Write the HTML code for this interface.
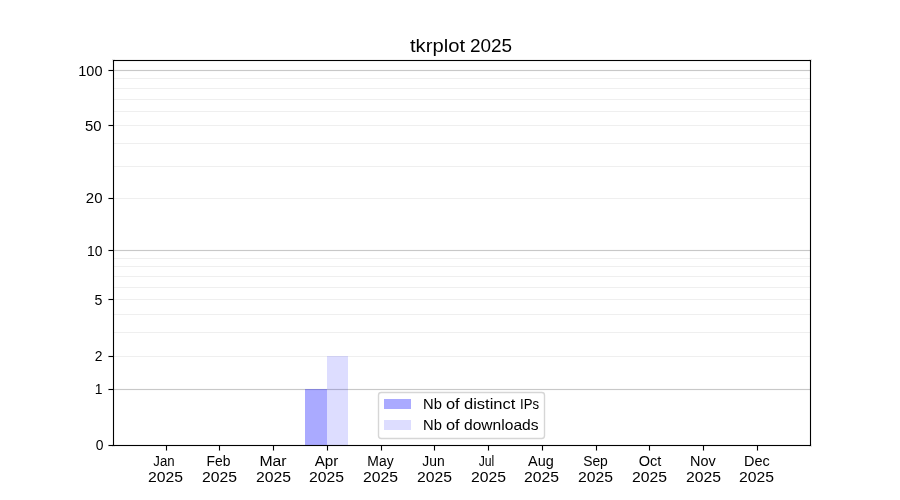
<!DOCTYPE html>
<html><head><meta charset="utf-8"><title>tkrplot 2025</title>
<style>
html,body{margin:0;padding:0;background:#fff;}
body{width:900px;height:500px;overflow:hidden;}
svg{display:block;will-change:transform;}
text{font-family:"Liberation Sans",sans-serif;fill:#000;}
</style></head><body>
<svg width="900" height="500" viewBox="0 0 900 500">
<rect width="900" height="500" fill="#fff"/>
<g shape-rendering="crispEdges">
<rect x="113" y="78" width="697" height="1" fill="#b0b0b0" fill-opacity="0.2"/>
<rect x="113" y="88" width="697" height="1" fill="#b0b0b0" fill-opacity="0.2"/>
<rect x="113" y="99" width="697" height="1" fill="#b0b0b0" fill-opacity="0.2"/>
<rect x="113" y="111" width="697" height="1" fill="#b0b0b0" fill-opacity="0.2"/>
<rect x="113" y="125" width="697" height="1" fill="#b0b0b0" fill-opacity="0.2"/>
<rect x="113" y="143" width="697" height="1" fill="#b0b0b0" fill-opacity="0.2"/>
<rect x="113" y="166" width="697" height="1" fill="#b0b0b0" fill-opacity="0.2"/>
<rect x="113" y="198" width="697" height="1" fill="#b0b0b0" fill-opacity="0.2"/>
<rect x="113" y="258" width="697" height="1" fill="#b0b0b0" fill-opacity="0.2"/>
<rect x="113" y="266" width="697" height="1" fill="#b0b0b0" fill-opacity="0.2"/>
<rect x="113" y="276" width="697" height="1" fill="#b0b0b0" fill-opacity="0.2"/>
<rect x="113" y="287" width="697" height="1" fill="#b0b0b0" fill-opacity="0.2"/>
<rect x="113" y="299" width="697" height="1" fill="#b0b0b0" fill-opacity="0.2"/>
<rect x="113" y="314" width="697" height="1" fill="#b0b0b0" fill-opacity="0.2"/>
<rect x="113" y="332" width="697" height="1" fill="#b0b0b0" fill-opacity="0.2"/>
<rect x="113" y="356" width="697" height="1" fill="#b0b0b0" fill-opacity="0.2"/>
<rect x="113" y="70" width="697" height="1" fill="#b0b0b0" fill-opacity="0.7"/>
<rect x="113" y="69" width="697" height="1" fill="#b0b0b0" fill-opacity="0.05"/>
<rect x="113" y="71" width="697" height="1" fill="#b0b0b0" fill-opacity="0.05"/>
<rect x="113" y="250" width="697" height="1" fill="#b0b0b0" fill-opacity="0.7"/>
<rect x="113" y="249" width="697" height="1" fill="#b0b0b0" fill-opacity="0.05"/>
<rect x="113" y="251" width="697" height="1" fill="#b0b0b0" fill-opacity="0.05"/>
<rect x="113" y="389" width="697" height="1" fill="#b0b0b0" fill-opacity="0.7"/>
<rect x="113" y="388" width="697" height="1" fill="#b0b0b0" fill-opacity="0.05"/>
<rect x="113" y="390" width="697" height="1" fill="#b0b0b0" fill-opacity="0.05"/>
<rect x="305" y="389" width="22" height="56" fill="#00f" fill-opacity="0.333"/>
<rect x="327" y="356" width="21" height="89" fill="#00f" fill-opacity="0.133"/>
<rect x="378.5" y="392.5" width="166" height="46" rx="2.78" ry="2.78" fill="#fff" fill-opacity="0.8" stroke="#ccc" stroke-opacity="0.8" stroke-width="1.39" shape-rendering="geometricPrecision"/>
<rect x="384" y="399" width="27" height="10" fill="rgb(170,170,255)"/>
<rect x="384" y="420" width="27" height="10" fill="rgb(221,221,255)"/>
<rect x="112" y="59" width="700" height="3" fill="#000" fill-opacity="0.055"/>
<rect x="112" y="444" width="700" height="3" fill="#000" fill-opacity="0.055"/>
<rect x="112" y="59" width="3" height="388" fill="#000" fill-opacity="0.055"/>
<rect x="809" y="59" width="3" height="388" fill="#000" fill-opacity="0.055"/>
<rect x="113" y="60" width="698" height="1" fill="#000"/>
<rect x="113" y="445" width="698" height="1" fill="#000"/>
<rect x="113" y="60" width="1" height="386" fill="#000"/>
<rect x="810" y="60" width="1" height="386" fill="#000"/>
<rect x="108" y="69" width="5" height="3" fill="#000" fill-opacity="0.055"/>
<rect x="109" y="70" width="4" height="1" fill="#000"/>
<rect x="108" y="70" width="1" height="1" fill="#000" fill-opacity="0.5"/>
<rect x="108" y="124" width="5" height="3" fill="#000" fill-opacity="0.055"/>
<rect x="109" y="125" width="4" height="1" fill="#000"/>
<rect x="108" y="125" width="1" height="1" fill="#000" fill-opacity="0.5"/>
<rect x="108" y="197" width="5" height="3" fill="#000" fill-opacity="0.055"/>
<rect x="109" y="198" width="4" height="1" fill="#000"/>
<rect x="108" y="198" width="1" height="1" fill="#000" fill-opacity="0.5"/>
<rect x="108" y="249" width="5" height="3" fill="#000" fill-opacity="0.055"/>
<rect x="109" y="250" width="4" height="1" fill="#000"/>
<rect x="108" y="250" width="1" height="1" fill="#000" fill-opacity="0.5"/>
<rect x="108" y="298" width="5" height="3" fill="#000" fill-opacity="0.055"/>
<rect x="109" y="299" width="4" height="1" fill="#000"/>
<rect x="108" y="299" width="1" height="1" fill="#000" fill-opacity="0.5"/>
<rect x="108" y="355" width="5" height="3" fill="#000" fill-opacity="0.055"/>
<rect x="109" y="356" width="4" height="1" fill="#000"/>
<rect x="108" y="356" width="1" height="1" fill="#000" fill-opacity="0.5"/>
<rect x="108" y="388" width="5" height="3" fill="#000" fill-opacity="0.055"/>
<rect x="109" y="389" width="4" height="1" fill="#000"/>
<rect x="108" y="389" width="1" height="1" fill="#000" fill-opacity="0.5"/>
<rect x="108" y="444" width="5" height="3" fill="#000" fill-opacity="0.055"/>
<rect x="109" y="445" width="4" height="1" fill="#000"/>
<rect x="108" y="445" width="1" height="1" fill="#000" fill-opacity="0.5"/>
<rect x="165" y="446" width="3" height="5" fill="#000" fill-opacity="0.055"/>
<rect x="166" y="446" width="1" height="4" fill="#000"/>
<rect x="166" y="450" width="1" height="1" fill="#000" fill-opacity="0.5"/>
<rect x="218" y="446" width="3" height="5" fill="#000" fill-opacity="0.055"/>
<rect x="219" y="446" width="1" height="4" fill="#000"/>
<rect x="219" y="450" width="1" height="1" fill="#000" fill-opacity="0.5"/>
<rect x="272" y="446" width="3" height="5" fill="#000" fill-opacity="0.055"/>
<rect x="273" y="446" width="1" height="4" fill="#000"/>
<rect x="273" y="450" width="1" height="1" fill="#000" fill-opacity="0.5"/>
<rect x="326" y="446" width="3" height="5" fill="#000" fill-opacity="0.055"/>
<rect x="327" y="446" width="1" height="4" fill="#000"/>
<rect x="327" y="450" width="1" height="1" fill="#000" fill-opacity="0.5"/>
<rect x="380" y="446" width="3" height="5" fill="#000" fill-opacity="0.055"/>
<rect x="381" y="446" width="1" height="4" fill="#000"/>
<rect x="381" y="450" width="1" height="1" fill="#000" fill-opacity="0.5"/>
<rect x="433" y="446" width="3" height="5" fill="#000" fill-opacity="0.055"/>
<rect x="434" y="446" width="1" height="4" fill="#000"/>
<rect x="434" y="450" width="1" height="1" fill="#000" fill-opacity="0.5"/>
<rect x="487" y="446" width="3" height="5" fill="#000" fill-opacity="0.055"/>
<rect x="488" y="446" width="1" height="4" fill="#000"/>
<rect x="488" y="450" width="1" height="1" fill="#000" fill-opacity="0.5"/>
<rect x="541" y="446" width="3" height="5" fill="#000" fill-opacity="0.055"/>
<rect x="542" y="446" width="1" height="4" fill="#000"/>
<rect x="542" y="450" width="1" height="1" fill="#000" fill-opacity="0.5"/>
<rect x="595" y="446" width="3" height="5" fill="#000" fill-opacity="0.055"/>
<rect x="596" y="446" width="1" height="4" fill="#000"/>
<rect x="596" y="450" width="1" height="1" fill="#000" fill-opacity="0.5"/>
<rect x="648" y="446" width="3" height="5" fill="#000" fill-opacity="0.055"/>
<rect x="649" y="446" width="1" height="4" fill="#000"/>
<rect x="649" y="450" width="1" height="1" fill="#000" fill-opacity="0.5"/>
<rect x="702" y="446" width="3" height="5" fill="#000" fill-opacity="0.055"/>
<rect x="703" y="446" width="1" height="4" fill="#000"/>
<rect x="703" y="450" width="1" height="1" fill="#000" fill-opacity="0.5"/>
<rect x="756" y="446" width="3" height="5" fill="#000" fill-opacity="0.055"/>
<rect x="757" y="446" width="1" height="4" fill="#000"/>
<rect x="757" y="450" width="1" height="1" fill="#000" fill-opacity="0.5"/>
</g>
<g>
<text x="410.00" y="52.00" font-size="18.00" text-anchor="start" textLength="55.04" lengthAdjust="spacingAndGlyphs">tkrplot</text>
<text x="470.00" y="52.00" font-size="18.00" text-anchor="start" textLength="42.15" lengthAdjust="spacingAndGlyphs">2025</text>
<text x="102.50" y="76.00" font-size="13.89" text-anchor="end" textLength="24.21" lengthAdjust="spacingAndGlyphs">100</text>
<text x="101.50" y="131.00" font-size="13.89" text-anchor="end" textLength="16.54" lengthAdjust="spacingAndGlyphs">50</text>
<text x="102.50" y="203.00" font-size="13.89" text-anchor="end" textLength="16.66" lengthAdjust="spacingAndGlyphs">20</text>
<text x="102.50" y="256.00" font-size="13.89" text-anchor="end">10</text>
<text x="102.50" y="305.00" font-size="13.89" text-anchor="end" textLength="7.88" lengthAdjust="spacingAndGlyphs">5</text>
<text x="102.50" y="361.00" font-size="13.89" text-anchor="end">2</text>
<text x="102.50" y="394.00" font-size="13.89" text-anchor="end">1</text>
<text x="103.50" y="450.00" font-size="13.89" text-anchor="end">0</text>
<text x="164.00" y="466.00" font-size="13.89" text-anchor="middle" textLength="21.31" lengthAdjust="spacingAndGlyphs">Jan</text>
<text x="165.50" y="482.00" font-size="13.89" text-anchor="middle" textLength="35.02" lengthAdjust="spacingAndGlyphs">2025</text>
<text x="218.50" y="466.00" font-size="13.89" text-anchor="middle">Feb</text>
<text x="219.50" y="482.00" font-size="13.89" text-anchor="middle" textLength="35.02" lengthAdjust="spacingAndGlyphs">2025</text>
<text x="273.00" y="466.00" font-size="13.89" text-anchor="middle" textLength="27.17" lengthAdjust="spacingAndGlyphs">Mar</text>
<text x="273.50" y="482.00" font-size="13.89" text-anchor="middle" textLength="35.02" lengthAdjust="spacingAndGlyphs">2025</text>
<text x="326.50" y="466.00" font-size="13.89" text-anchor="middle" textLength="23.65" lengthAdjust="spacingAndGlyphs">Apr</text>
<text x="326.50" y="482.00" font-size="13.89" text-anchor="middle" textLength="35.02" lengthAdjust="spacingAndGlyphs">2025</text>
<text x="380.50" y="466.00" font-size="13.89" text-anchor="middle" textLength="26.26" lengthAdjust="spacingAndGlyphs">May</text>
<text x="380.50" y="482.00" font-size="13.89" text-anchor="middle" textLength="35.02" lengthAdjust="spacingAndGlyphs">2025</text>
<text x="433.50" y="466.00" font-size="13.89" text-anchor="middle">Jun</text>
<text x="434.50" y="482.00" font-size="13.89" text-anchor="middle" textLength="35.02" lengthAdjust="spacingAndGlyphs">2025</text>
<text x="486.50" y="466.00" font-size="13.89" text-anchor="middle" textLength="15.66" lengthAdjust="spacingAndGlyphs">Jul</text>
<text x="488.50" y="482.00" font-size="13.89" text-anchor="middle" textLength="35.02" lengthAdjust="spacingAndGlyphs">2025</text>
<text x="541.00" y="466.00" font-size="13.89" text-anchor="middle" textLength="25.73" lengthAdjust="spacingAndGlyphs">Aug</text>
<text x="541.50" y="482.00" font-size="13.89" text-anchor="middle" textLength="35.02" lengthAdjust="spacingAndGlyphs">2025</text>
<text x="595.50" y="466.00" font-size="13.89" text-anchor="middle">Sep</text>
<text x="595.50" y="482.00" font-size="13.89" text-anchor="middle" textLength="35.02" lengthAdjust="spacingAndGlyphs">2025</text>
<text x="650.00" y="466.00" font-size="13.89" text-anchor="middle" textLength="22.62" lengthAdjust="spacingAndGlyphs">Oct</text>
<text x="649.50" y="482.00" font-size="13.89" text-anchor="middle" textLength="35.02" lengthAdjust="spacingAndGlyphs">2025</text>
<text x="703.00" y="466.00" font-size="13.89" text-anchor="middle" textLength="25.72" lengthAdjust="spacingAndGlyphs">Nov</text>
<text x="703.50" y="482.00" font-size="13.89" text-anchor="middle" textLength="35.02" lengthAdjust="spacingAndGlyphs">2025</text>
<text x="757.00" y="466.00" font-size="13.89" text-anchor="middle" textLength="25.76" lengthAdjust="spacingAndGlyphs">Dec</text>
<text x="756.50" y="482.00" font-size="13.89" text-anchor="middle" textLength="35.02" lengthAdjust="spacingAndGlyphs">2025</text>
<text x="423.00" y="409.00" font-size="13.89" text-anchor="start" textLength="18.86" lengthAdjust="spacingAndGlyphs">Nb</text>
<text x="446.00" y="409.00" font-size="13.89" text-anchor="start" textLength="13.68" lengthAdjust="spacingAndGlyphs">of</text>
<text x="464.00" y="409.00" font-size="13.89" text-anchor="start" textLength="51.41" lengthAdjust="spacingAndGlyphs">distinct</text>
<text x="520.00" y="409.00" font-size="13.89" text-anchor="start" textLength="19.01" lengthAdjust="spacingAndGlyphs">IPs</text>
<text x="423.00" y="430.00" font-size="13.89" text-anchor="start" textLength="18.86" lengthAdjust="spacingAndGlyphs">Nb</text>
<text x="446.00" y="430.00" font-size="13.89" text-anchor="start" textLength="13.68" lengthAdjust="spacingAndGlyphs">of</text>
<text x="464.00" y="430.00" font-size="13.89" text-anchor="start" textLength="74.51" lengthAdjust="spacingAndGlyphs">downloads</text>
</g>
</svg>
</body></html>
